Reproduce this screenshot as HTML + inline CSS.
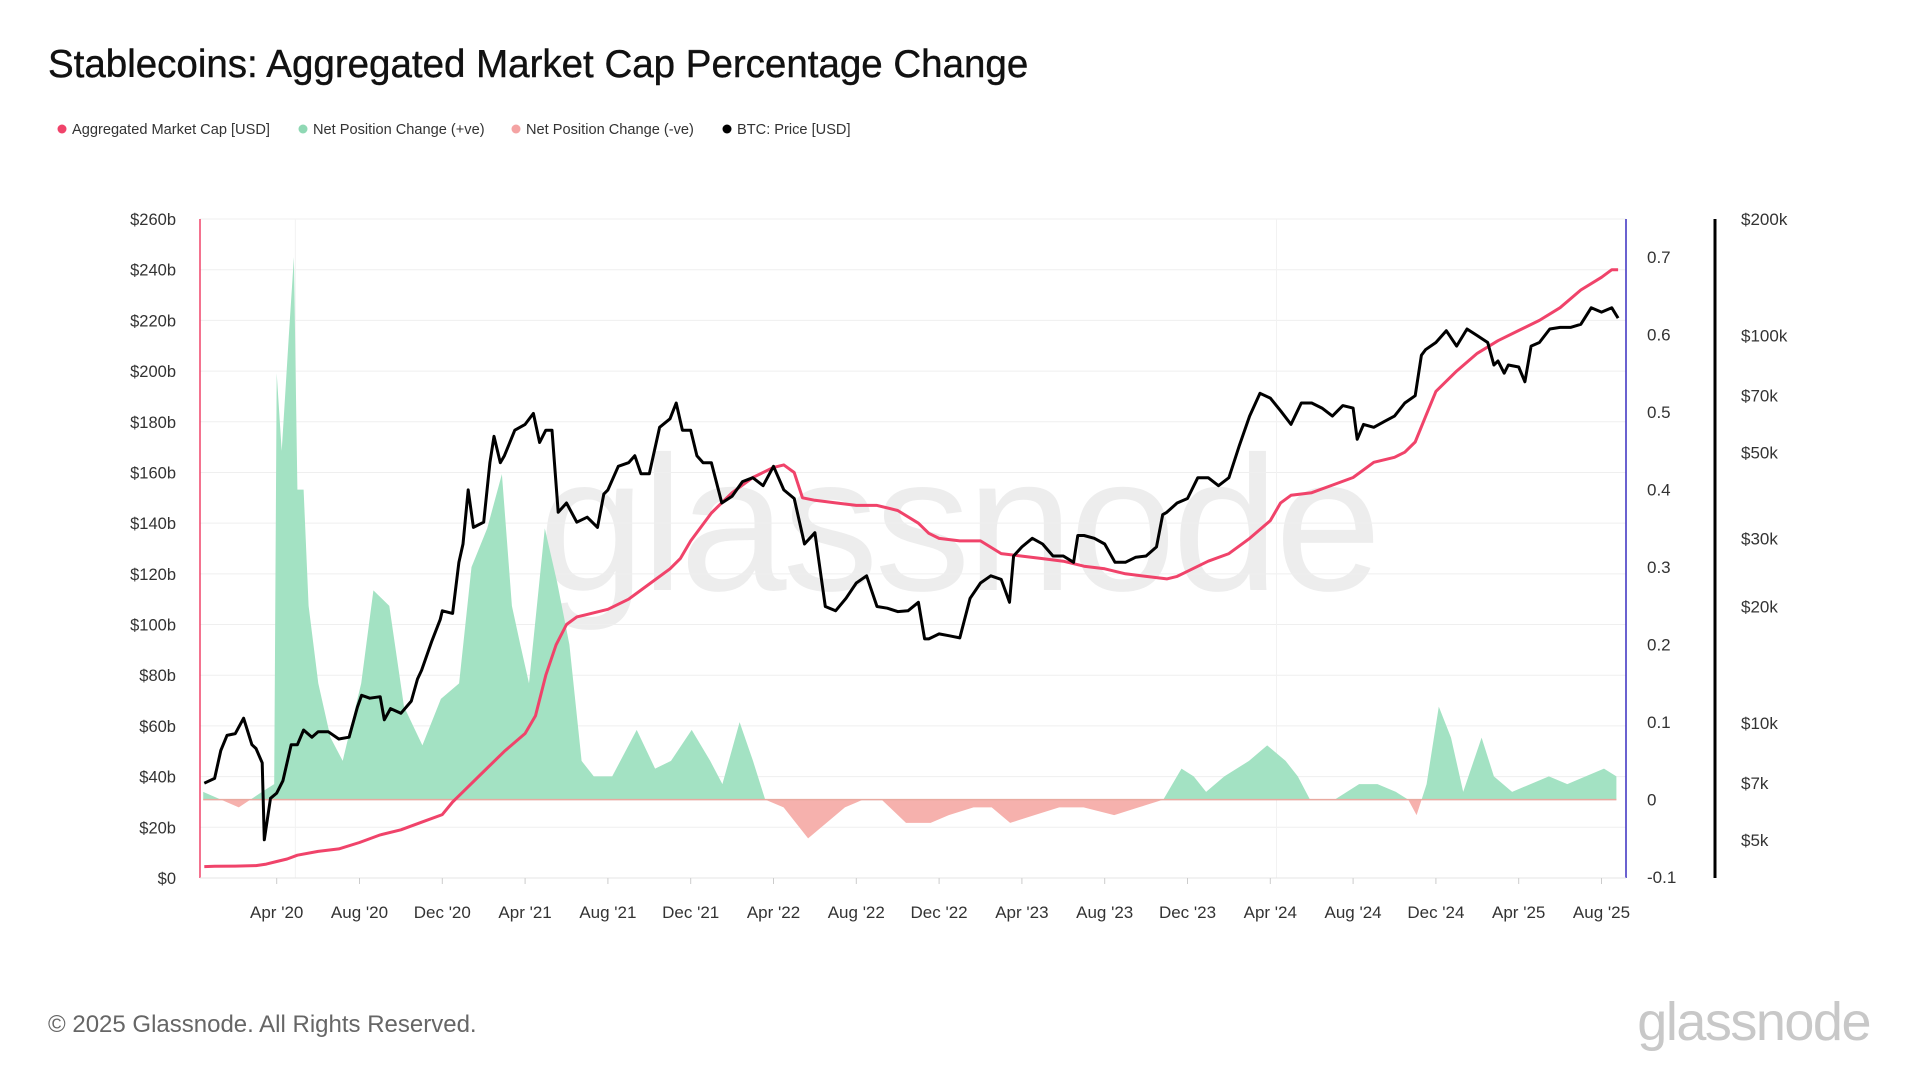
<!DOCTYPE html>
<html><head><meta charset="utf-8">
<style>
html,body{margin:0;padding:0;background:#fff;}
body{width:1920px;height:1080px;overflow:hidden;font-family:"Liberation Sans",sans-serif;}
svg text{font-family:"Liberation Sans",sans-serif;}
</style></head>
<body>
<svg id="chart" width="1920" height="1080" viewBox="0 0 1920 1080" xmlns="http://www.w3.org/2000/svg">
  <text x="48" y="77" font-size="38.5" fill="#111" stroke="#111" stroke-width="0.4">Stablecoins: Aggregated Market Cap Percentage Change</text>
  <g font-size="14.6" fill="#333">
    <g><circle cx="62" cy="129" r="4.5" fill="#f0436a"/><text x="72" y="134">Aggregated Market Cap [USD]</text></g>
    <g><circle cx="303" cy="129" r="4.5" fill="#8fd8b4"/><text x="313" y="134">Net Position Change (+ve)</text></g>
    <g><circle cx="516" cy="129" r="4.5" fill="#f4a3a3"/><text x="526" y="134">Net Position Change (-ve)</text></g>
    <g><circle cx="727" cy="129" r="4.5" fill="#000"/><text x="737" y="134">BTC: Price [USD]</text></g>
  </g>
  <text x="958" y="590" font-size="192" text-anchor="middle" fill="#000" fill-opacity="0.07" letter-spacing="-4">glassnode</text>
  <g id="grid"></g>
  <g id="plot"></g>
  <g id="axes"></g>
  <text x="48" y="1032" font-size="24" fill="#666">© 2025 Glassnode. All Rights Reserved.</text>
  <text x="1870" y="1040" font-size="54" text-anchor="end" fill="#c8c8c8" letter-spacing="-1.5">glassnode</text>
</svg>
<script>
// ---- data (m = months since Jan 2020) ----
const mcapMonths = [-0.5,0,1,2,2.5,3,3.5,4,5,6,7,8,9,10,11,11.5,12,13,14,15,15.5,16,16.5,17,17.5,18,19,20,21,22,22.5,23,24,25,26,27,27.5,28,28.4,29,30,31,32,33,34,34.5,35,36,37,38,39,40,41,42,43,44,45,46,46.5,47,48,49,50,51,51.5,52,53,54,55,56,57,57.5,58,58.5,59,59.5,60,61,62,63,64,65,66,67,67.5,67.8];
const mcapValues = [4.5,4.6,4.7,4.9,5.5,6.5,7.5,9,10.5,11.5,14,17,19,22,25,30,34,42,50,57,64,80,92,100,103,104,106,110,116,122,126,133,144,152,158,162,163,160,150,149,148,147,147,145,140,136,134,133,133,128,127,126,125,123,122,120,119,118,119,121,125,128,134,141,148,151,152,155,158,164,166,168,172,182,192,196,200,207,212,216,220,225,232,237,240,240];

const btcMonths = [-0.5,0,0.3,0.6,1,1.4,1.8,2,2.3,2.4,2.7,3,3.3,3.7,4,4.3,4.7,5,5.5,6,6.5,6.9,7.1,7.5,8,8.2,8.5,9,9.5,9.8,10,10.5,10.9,11,11.5,11.8,12,12.25,12.5,13,13.3,13.5,13.8,14,14.5,15,15.4,15.7,16,16.3,16.6,17,17.5,18,18.5,18.8,19,19.5,20,20.3,20.6,21,21.5,22,22.3,22.6,23,23.3,23.6,24,24.5,25,25.5,26,26.5,27,27.5,28,28.5,29,29.5,30,30.5,31,31.5,32,32.5,33,33.5,34,34.3,34.5,35,35.5,36,36.5,37,37.5,38,38.4,38.6,39,39.5,40,40.5,41,41.5,41.7,42,42.5,43,43.5,44,44.5,45,45.5,45.8,46,46.5,47,47.5,48,48.5,49,49.5,50,50.5,51,51.5,52,52.5,53,53.5,54,54.5,55,55.2,55.5,56,56.5,57,57.5,58,58.3,58.5,59,59.5,60,60.5,61,61.5,61.8,62,62.3,62.5,63,63.3,63.6,64,64.5,65,65.5,66,66.5,67,67.5,67.8];
const btcValues = [7.0,7.2,8.5,9.3,9.4,10.3,8.8,8.6,7.9,5.0,6.4,6.6,7.1,8.8,8.8,9.6,9.2,9.5,9.5,9.1,9.2,11.0,11.8,11.6,11.7,10.2,10.9,10.6,11.4,13.0,13.7,16.3,18.5,19.5,19.2,26,29,40,32,33,47,55,47,49,57,59,63,53,57,57,35,37,33,34,32,39,40,46,47,49,44,44,58,61,67,57,57,49,47,47,37,38.5,42,43,41,46,40,38,29,31,20,19.5,21,23,24,20,19.8,19.4,19.5,20.5,16.5,16.5,17,16.8,16.6,21,23,24,23.5,20.5,27,28.5,30,29,27,27,26,30.5,30.5,30,29,26,26,26.8,27,28.5,34.5,35,37,38,43,43,41,43,52,62,71,69,64,59,67,67,65,62,66,65,54,59,58,60,62,67,70,89,92,96,103,94,104,100,96,84,86,80,84,83,76,94,96,104,105,105,107,118,115,118,111];

const netMonths = [-0.55,1.17,2.29,2.88,3.0,3.24,3.59,3.83,4.0,4.3,4.54,5.01,5.6,6.19,7.08,7.67,8.44,9.15,10.04,10.93,11.81,12.41,13.17,13.88,14.36,14.77,15.19,15.95,16.55,17.14,17.73,18.32,19.21,20.39,21.28,22.05,23.05,23.94,24.53,25.36,26.01,26.6,27.49,28.67,29.56,30.45,31.33,32.22,33.4,34.59,35.47,36.66,37.54,38.43,39.61,40.8,41.98,43.46,44.64,45.83,46.71,47.3,47.9,48.78,49.97,50.85,51.74,52.33,52.92,54.11,55.29,56.18,57.07,57.66,58.07,58.55,59.14,59.73,60.32,61.21,61.8,62.68,63.57,64.46,65.35,66.23,67.12,67.72];
const netValues = [0.01,-0.01,0.01,0.02,0.55,0.45,0.60,0.70,0.40,0.40,0.25,0.15,0.08,0.05,0.15,0.27,0.25,0.12,0.07,0.13,0.15,0.30,0.35,0.42,0.25,0.20,0.15,0.35,0.28,0.20,0.05,0.03,0.03,0.09,0.04,0.05,0.09,0.05,0.02,0.10,0.05,0.0,-0.01,-0.05,-0.03,-0.01,0.0,0.0,-0.03,-0.03,-0.02,-0.01,-0.01,-0.03,-0.02,-0.01,-0.01,-0.02,-0.01,0.0,0.04,0.03,0.01,0.03,0.05,0.07,0.05,0.03,0.0,0.0,0.02,0.02,0.01,0.0,-0.02,0.02,0.12,0.08,0.01,0.08,0.03,0.01,0.02,0.03,0.02,0.03,0.04,0.03];

const leftTicks = [0,20,40,60,80,100,120,140,160,180,200,220,240,260];
const leftTickLabels = ["$0","$20b","$40b","$60b","$80b","$100b","$120b","$140b","$160b","$180b","$200b","$220b","$240b","$260b"];
const rightTicks = [-0.1,0,0.1,0.2,0.3,0.4,0.5,0.6,0.7];
const rightTickLabels = ["-0.1","0","0.1","0.2","0.3","0.4","0.5","0.6","0.7"];
const btcTicks = [5,7,10,20,30,50,70,100,200];
const btcTickLabels = ["$5k","$7k","$10k","$20k","$30k","$50k","$70k","$100k","$200k"];
const xTickMonths = [3,7,11,15,19,23,27,31,35,39,43,47,51,55,59,63,67];
const xTickLabels = ["Apr '20","Aug '20","Dec '20","Apr '21","Aug '21","Dec '21","Apr '22","Aug '22","Dec '22","Apr '23","Aug '23","Dec '23","Apr '24","Aug '24","Dec '24","Apr '25","Aug '25"];

// ---- scales ----
const PL = 200, PR = 1626, PT = 219, PB = 878;
function xS(m){ return 276.7 + (m - 3) * 20.70; }
function yL(b){ return PB - b * (PB - PT) / 260; }
function yR(v){ return 799.6 - v * 775; }
function yB(p){ return PT + Math.log10(200 / p) * 387.5; }

const NS = "http://www.w3.org/2000/svg";
function mk(tag, attrs, parent){
  const el = document.createElementNS(NS, tag);
  for (const k in attrs) el.setAttribute(k, attrs[k]);
  parent.appendChild(el);
  return el;
}
const grid = document.getElementById('grid');
const plot = document.getElementById('plot');
const axes = document.getElementById('axes');

leftTicks.forEach((t, i) => {
  const y = yL(t);
  const g = mk('line', {x1: PL, x2: PR, y1: y, y2: y, stroke: '#efefef', 'stroke-width': 1}, grid);
  
  
  const tx = mk('text', {x: 176, y: y + 6, 'font-size': 16.5, 'text-anchor': 'end', fill: '#333'}, axes);
  tx.textContent = leftTickLabels[i];
  
  
});
[3.9, 51.3].forEach(m => {
  const v = mk('line', {x1: xS(m), x2: xS(m), y1: PT, y2: PB, stroke: '#f2f2f2', 'stroke-width': 1}, grid);
  
  
});

const defs = mk('defs', {}, plot);
const cp = mk('clipPath', {id: 'pos'}, defs);
mk('rect', {x: PL, y: 0, width: PR - PL, height: yR(0)}, cp);
const cn = mk('clipPath', {id: 'neg'}, defs);
mk('rect', {x: PL, y: yR(0), width: PR - PL, height: 400}, cn);
let d = 'M' + xS(netMonths[0]) + ',' + yR(0);
netMonths.forEach((m, i) => { d += 'L' + xS(m).toFixed(1) + ',' + yR(netValues[i]).toFixed(1); });
d += 'L' + xS(netMonths[netMonths.length - 1]) + ',' + yR(0) + 'Z';
const ap = mk('path', {d: d, fill: '#a3e2c3', 'clip-path': 'url(#pos)'}, plot);


const an = mk('path', {d: d, fill: '#f6b1ad', 'clip-path': 'url(#neg)'}, plot);


const zl = mk('line', {x1: xS(netMonths[0]), x2: xS(netMonths[netMonths.length - 1]), y1: yR(0), y2: yR(0), stroke: '#e9a9a0', 'stroke-width': 1.5}, plot);



let dm = '';
mcapMonths.forEach((m, i) => { dm += (i ? 'L' : 'M') + xS(m).toFixed(1) + ',' + yL(mcapValues[i]).toFixed(1); });
const ml = mk('path', {d: dm, fill: 'none', stroke: '#f0436a', 'stroke-width': 3, 'stroke-linejoin': 'round'}, plot);



let db = '';
btcMonths.forEach((m, i) => { db += (i ? 'L' : 'M') + xS(m).toFixed(1) + ',' + yB(btcValues[i]).toFixed(1); });
const bl = mk('path', {d: db, fill: 'none', stroke: '#000', 'stroke-width': 3, 'stroke-linejoin': 'round'}, plot);



const la = mk('line', {x1: PL, x2: PL, y1: PT, y2: PB, stroke: '#f0436a', 'stroke-width': 1.5}, axes);


const ra = mk('line', {x1: PR, x2: PR, y1: PT, y2: PB, stroke: '#3a2fc0', 'stroke-width': 1.5}, axes);


const ba = mk('line', {x1: 1715, x2: 1715, y1: PT, y2: PB, stroke: '#000', 'stroke-width': 3}, axes);


const xa = mk('line', {x1: PL, x2: PR, y1: PB, y2: PB, stroke: '#e6e6e6', 'stroke-width': 1}, axes);



rightTicks.forEach((t, i) => {
  const tx = mk('text', {x: 1647, y: yR(t) + 6, 'font-size': 17, fill: '#333'}, axes);
  tx.textContent = rightTickLabels[i];
  
  
});
btcTicks.forEach((t, i) => {
  const tx = mk('text', {x: 1741, y: yB(t) + 6, 'font-size': 17, fill: '#333'}, axes);
  tx.textContent = btcTickLabels[i];
  
  
});
xTickMonths.forEach((m, i) => {
  const x = xS(m);
  const tk = mk('line', {x1: x, x2: x, y1: PB, y2: PB + 6, stroke: '#ccc', 'stroke-width': 1}, axes);
  
  
  const tx = mk('text', {x: x, y: 918, 'font-size': 17, 'text-anchor': 'middle', fill: '#333'}, axes);
  tx.textContent = xTickLabels[i];
  
  
});
</script>
</body></html>
